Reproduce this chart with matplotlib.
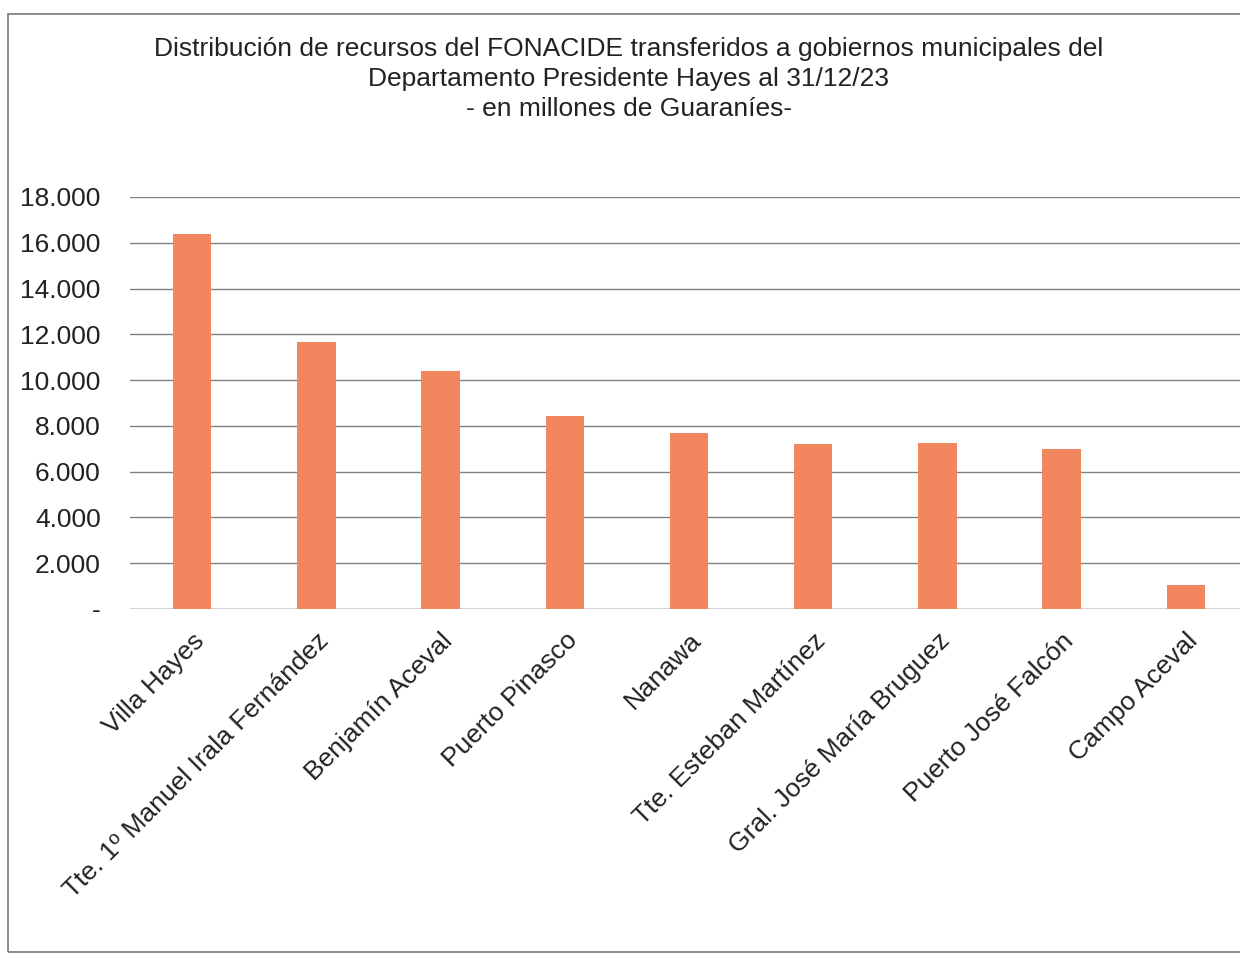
import matplotlib
matplotlib.use("Agg")
import matplotlib.pyplot as plt
from matplotlib.patches import Rectangle
from matplotlib.ticker import FuncFormatter

municipios = ["Villa Hayes", "Tte. 1º Manuel Irala Fernández", "Benjamín Aceval",
              "Puerto Pinasco", "Nanawa", "Tte. Esteban Martínez",
              "Gral. José María Bruguez", "Puerto José Falcón", "Campo Aceval"]
montos = [16400, 11650, 10400, 8450, 7700, 7200, 7250, 7000, 1050]
y_ticks = [0, 2000, 4000, 6000, 8000, 10000, 12000, 14000, 16000, 18000]

titulo = ("Distribución de recursos del FONACIDE transferidos a gobiernos municipales del\n"
          "Departamento Presidente Hayes al 31/12/23\n"
          "- en millones de Guaraníes-")

plt.rcParams['font.family'] = ['Liberation Sans', 'DejaVu Sans']

fig = plt.figure(figsize=(12.4, 9.55), dpi=100)
ax = fig.add_axes([130 / 1240, (955 - 609) / 955, 1118 / 1240, 412 / 955])

x = range(len(municipios))
ax.bar(x, montos, width=0.31, color='#F2875F', zorder=2)

ax.set_xlim(-0.5, len(municipios) - 0.5)
ax.set_ylim(0, 18000)
ax.set_yticks(y_ticks)


def miles(v, pos):
    if v == 0:
        return "-"
    return f"{v:,.0f}".replace(",", ".")


ax.yaxis.set_major_formatter(FuncFormatter(miles))
ax.grid(axis='y', color='#808080', linewidth=1, zorder=0)
ax.set_axisbelow(True)
for s in ax.spines.values():
    s.set_visible(False)
ax.axhline(0, color='#808080', linewidth=1, zorder=1)

ax.tick_params(axis='y', length=0, pad=21, labelsize=19, labelcolor='#222222')
ax.tick_params(axis='x', length=0, pad=14)
ax.set_xticks(list(x))
ax.set_xticklabels(municipios, rotation=45, ha='right', rotation_mode='anchor',
                   fontsize=19, color='#222222')

fig.text(0.507, 1 - 37 / 955, titulo, ha='center', va='top', fontsize=19,
         color='#222222', linespacing=1.32)

# marco del grafico
fig.patches.append(Rectangle((8 / 1240, 3 / 955), 1.0, 938 / 955, transform=fig.transFigure,
                             fill=False, edgecolor='#777777', linewidth=1.2))

fig.savefig("out.png", dpi=100)
